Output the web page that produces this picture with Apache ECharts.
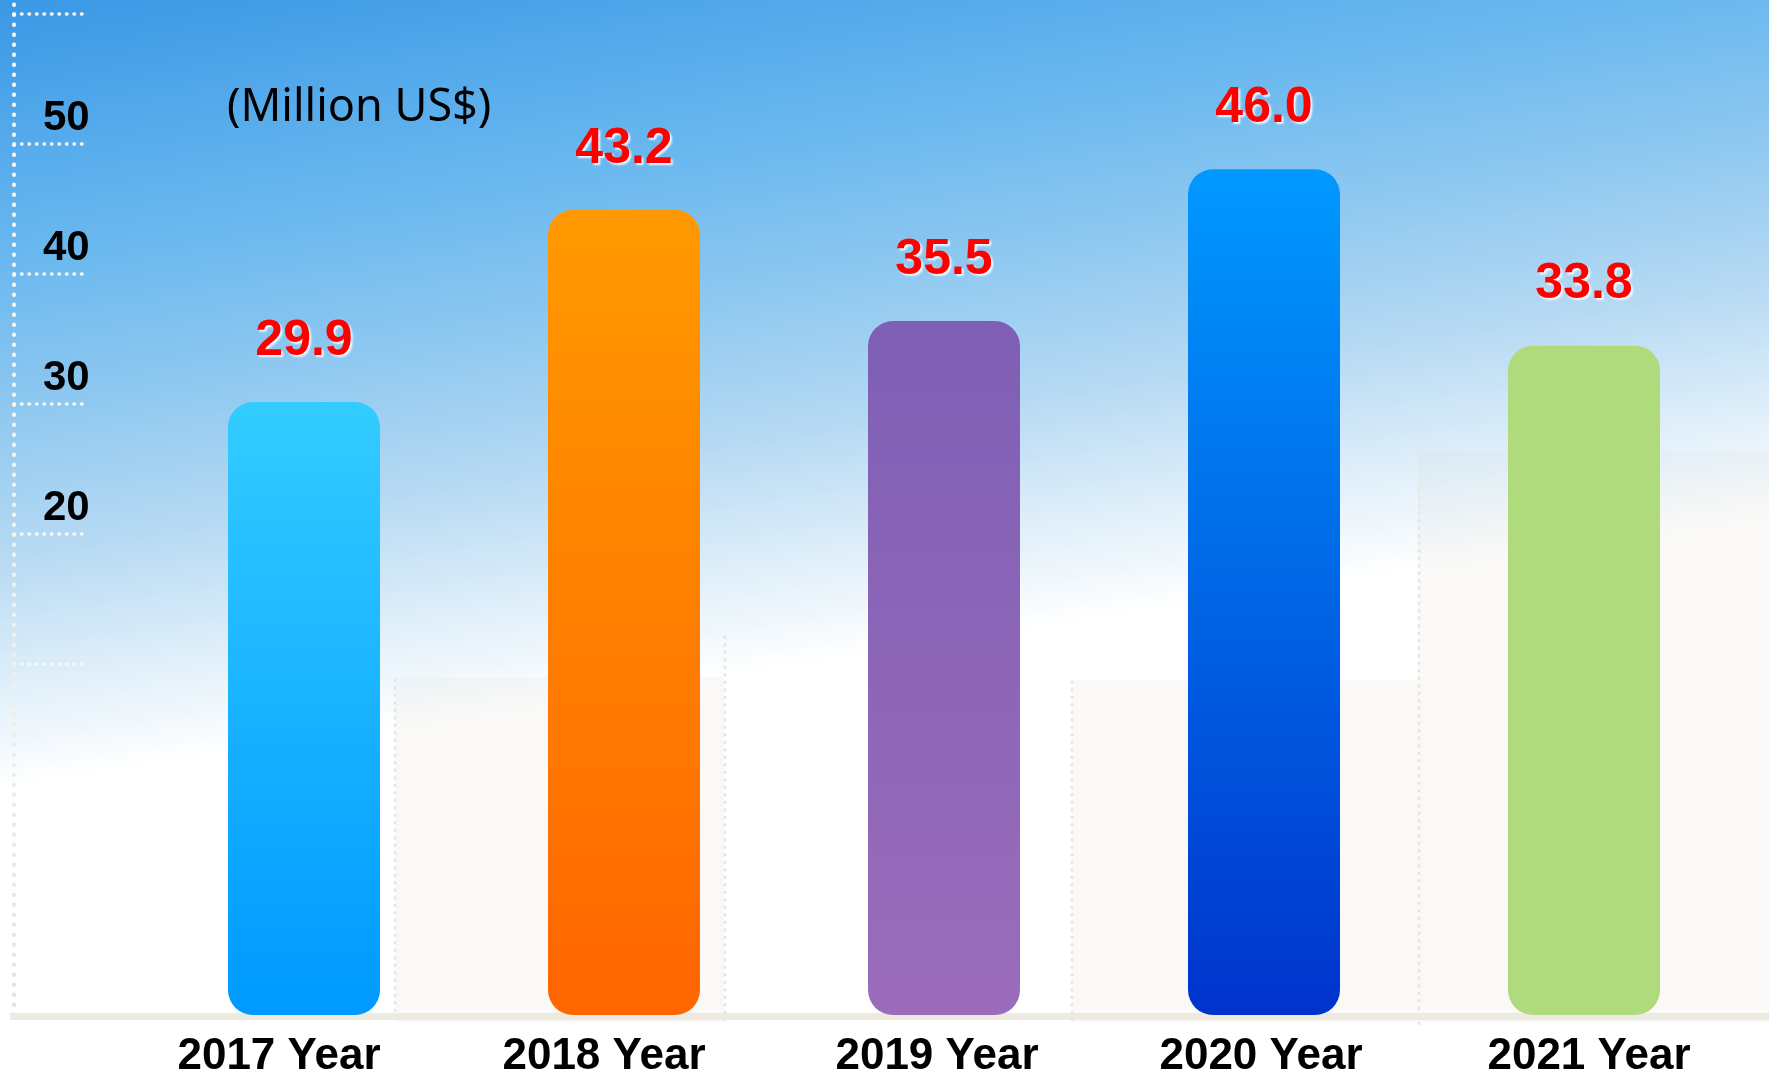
<!DOCTYPE html>
<html>
<head>
<meta charset="utf-8">
<style>
  html, body { margin: 0; padding: 0; background: #ffffff; }
  #chart { width: 1769px; height: 1075px; }
</style>
<script src="https://cdn.jsdelivr.net/npm/echarts@6/dist/echarts.min.js"></script>
</head>
<body>
<div id="chart"></div>
<script>
// ---- data ----
const categories = ['2017 Year', '2018 Year', '2019 Year', '2020 Year', '2021 Year'];
const values = [29.9, 43.2, 35.5, 46.0, 33.8];
const yTickLabels = ['20', '30', '40', '50'];
const unitLabel = '(Million US$)';

// ---- styles ----
const barColors = [
  ['#33ccff', '#0099ff'],
  ['#ff9900', '#ff6600'],
  ['#7e5fb5', '#9b6cbb'],
  ['#0099ff', '#0033cc'],
  ['#afdb7c', '#afdb7c']
];
const labelShift = [[0, 50, 0, 0], [0, 40, 0, 0], [0, 14, 0, 0], [0, 6, 0, 0], [0, 0, 0, 10]];

const chart = echarts.init(document.getElementById('chart'));
const G = echarts.graphic;

const bgGradient = new G.LinearGradient(0, 0, 119, 771, [
  { offset: 0, color: '#3a98e5' },
  { offset: 0.22, color: '#5aaeec' },
  { offset: 0.33, color: '#6ab8ef' },
  { offset: 0.52, color: '#8ec8f0' },
  { offset: 0.70, color: '#b5d9f3' },
  { offset: 0.86, color: 'rgba(181,217,243,0.45)' },
  { offset: 1, color: 'rgba(181,217,243,0)' }
], true);

const dotEdge = { stroke: '#e9e6dc', lineWidth: 3, lineDash: [0.5, 7], lineCap: 'round' };

const option = {
  animation: false,
  backgroundColor: '#ffffff',
  title: {
    text: unitLabel,
    left: 222,
    top: 81,
    textStyle: { fontFamily: 'Noto Sans', fontSize: 45, fontWeight: 'normal', color: '#000000' }
  },
  graphic: [
    { type: 'rect', z: -20, shape: { x: 395, y: 677, width: 329, height: 345 }, style: { fill: '#faf9f7' } },
    { type: 'rect', z: -20, shape: { x: 1072, y: 680, width: 346, height: 342 }, style: { fill: '#faf9f7' } },
    { type: 'rect', z: -20, shape: { x: 1418, y: 451, width: 351, height: 571 }, style: { fill: '#faf9f7' } },
    { type: 'rect', z: -15, shape: { x: 0, y: 0, width: 1769, height: 1075 }, style: { fill: bgGradient } },
    { type: 'line', z: -10, shape: { x1: 395, y1: 680, x2: 395, y2: 1025 }, style: dotEdge },
    { type: 'line', z: -10, shape: { x1: 725, y1: 637, x2: 725, y2: 1025 }, style: dotEdge },
    { type: 'line', z: -10, shape: { x1: 1072, y1: 682, x2: 1072, y2: 1025 }, style: dotEdge },
    { type: 'line', z: -10, shape: { x1: 1419, y1: 453, x2: 1419, y2: 1025 }, style: dotEdge },
    { type: 'rect', z: 1, shape: { x: 10, y: 1013, width: 1759, height: 7 }, style: { fill: '#edeae0' } }
  ],
  grid: [
    { left: 144, right: 25, top: 3, bottom: 60, containLabel: false, outerBoundsMode: 'none' },
    { left: 14, width: 68, top: 14, height: 780, containLabel: false, outerBoundsMode: 'none' }
  ],
  xAxis: [
    {
      type: 'category',
      gridIndex: 0,
      data: categories.map((c, i) => ({ value: c, textStyle: { padding: labelShift[i] } })),
      axisLine: { show: false },
      axisTick: { show: false },
      axisLabel: {
        margin: 20,
        fontFamily: 'Liberation Sans',
        fontWeight: 'bold',
        fontSize: 44,
        color: '#000000'
      }
    },
    { type: 'value', gridIndex: 1, show: false, min: 0, max: 1 }
  ],
  yAxis: [
    {
      type: 'value',
      gridIndex: 0,
      min: -12.5,
      max: 57.5,
      startValue: -12.5,
      offset: 130.5,
      axisLine: {
        show: true,
        lineStyle: {
          width: 4,
          type: [0.5, 9.5],
          cap: 'round',
          color: new G.LinearGradient(0, 0, 0, 1, [
            { offset: 0, color: '#ffffff' },
            { offset: 0.6, color: '#f4f2ec' },
            { offset: 1, color: '#e6e2d6' }
          ])
        }
      },
      axisTick: { show: false },
      axisLabel: { show: false },
      splitLine: { show: false }
    },
    {
      type: 'value',
      gridIndex: 1,
      min: 0,
      max: 60,
      interval: 10,
      axisLine: { show: false },
      axisTick: { show: false },
      splitLine: {
        show: true,
        showMinLine: false,
        lineStyle: { color: '#f8f7f2', width: 3.5, type: [0.5, 7], cap: 'round' }
      },
      axisLabel: {
        inside: true,
        margin: 29,
        align: 'left',
        verticalAlign: 'bottom',
        lineHeight: 52,
        fontFamily: 'Liberation Sans',
        fontWeight: 'bold',
        fontSize: 42,
        color: '#000000',
        formatter: v => (yTickLabels.indexOf(String(v)) >= 0 ? String(v) : '')
      }
    }
  ],
  series: [
    {
      type: 'bar',
      xAxisIndex: 0,
      yAxisIndex: 0,
      barWidth: 152,
      z: 3,
      data: values.map((v, i) => ({
        value: v,
        itemStyle: {
          borderRadius: 25,
          color: new G.LinearGradient(0, 0, 0, 1, [
            { offset: 0, color: barColors[i][0] },
            { offset: 1, color: barColors[i][1] }
          ])
        }
      })),
      label: {
        show: true,
        position: 'top',
        distance: 36,
        formatter: p => p.value.toFixed(1),
        fontFamily: 'Liberation Sans',
        fontWeight: 'bold',
        fontSize: 50,
        color: '#ff0000',
        textShadowColor: 'rgba(255,255,255,0.9)',
        textShadowOffsetX: 2,
        textShadowOffsetY: 2,
        textShadowBlur: 2
      }
    }
  ]
};

chart.setOption(option);
</script>
</body>
</html>
